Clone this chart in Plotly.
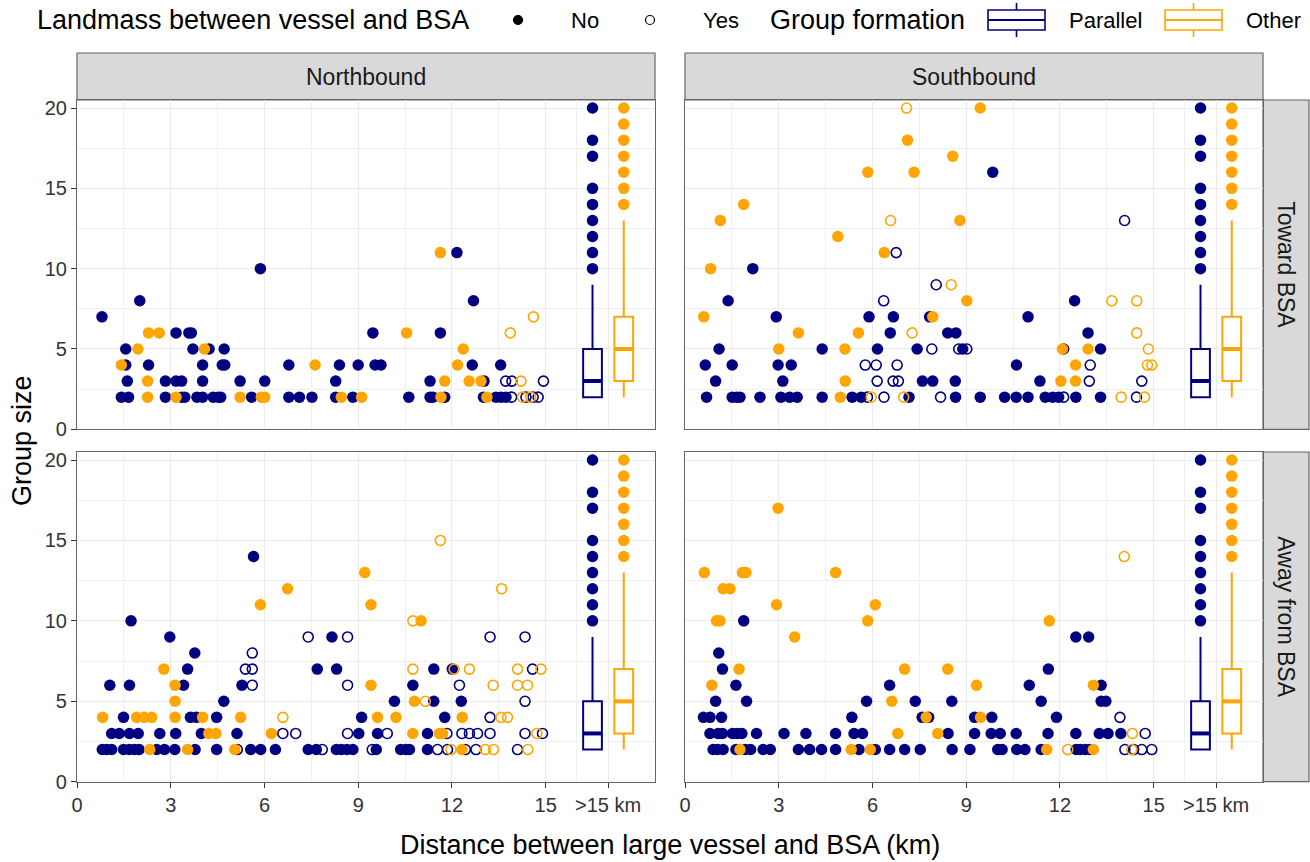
import plotly.graph_objects as go

W, H = 1310, 862
NAVY = "#000080"
ORANGE = "#FFA500"
FONT = "Liberation Sans, Arial, sans-serif"

COLS = ["Northbound", "Southbound"]
ROWS = ["Toward BSA", "Away from BSA"]

X_TICKS = [0, 3, 6, 9, 12, 15, 17]
X_TICKTEXT = ["0", "3", "6", "9", "12", "15", ">15 km"]
X_MINOR = [1.5, 4.5, 7.5, 10.5, 13.5, 16]
Y_TICKS = [0, 5, 10, 15, 20]
Y_MINOR = [2.5, 7.5, 12.5, 17.5]

LANDMASS_TITLE = "Landmass between vessel and BSA"
LANDMASS_LEVELS = ["No", "Yes"]
GROUP_TITLE = "Group formation"

# Box-plot summaries for the ">15 km" class (same in every panel)
BOX_GROUPS = ["Parallel", "Other"]
BOX_POS = [16.5, 17.5]
BOX_WIDTH = 0.6
PAR_STATS = dict(lowerfence=2, q1=2, median=3, q3=5, upperfence=9)
OTH_STATS = dict(lowerfence=2, q1=3, median=5, q3=7, upperfence=13)
PAR_OUTLIERS = [10, 11, 12, 13, 14, 15, 17, 18, 20]
OTH_OUTLIERS = [14, 15, 16, 17, 18, 19, 20]

# ---- scatter data: {group size: [distances in km]} ----
# Northbound, Toward BSA
nb_tw_par_no = {
    11: [12.16], 10: [5.87], 8: [2.01, 12.69], 7: [0.80],
    6: [3.17, 3.58, 3.66, 9.47, 11.63],
    5: [1.56, 3.71, 4.23, 4.71],
    4: [1.56, 2.29, 4.02, 4.65, 4.73, 6.78, 8.40, 9.00, 9.54, 9.73, 12.65, 13.56],
    3: [1.61, 2.83, 3.17, 3.35, 4.02, 5.22, 6.01, 8.28, 11.30, 13.03],
    2: [1.42, 1.65, 2.83, 3.35, 3.45, 3.84, 4.02, 4.36, 4.52, 4.60, 5.59, 6.78,
        7.12, 7.52, 8.28, 8.83, 10.62, 11.30, 11.39, 11.77, 13.01, 13.41, 13.57, 13.73],
}
nb_tw_par_yes = {3: [13.72, 13.92, 14.93], 2: [13.91, 14.37, 14.60, 14.76]}
nb_tw_oth_no = {
    11: [11.63], 6: [2.29, 2.63, 10.55], 5: [1.95, 4.08, 12.36],
    4: [1.42, 7.62, 12.18], 3: [2.26, 11.77, 12.55, 12.93],
    2: [2.26, 3.17, 5.22, 5.90, 6.01, 8.46, 9.11, 11.65, 13.12],
}
nb_tw_oth_yes = {7: [14.61], 6: [13.87], 3: [14.21], 2: [14.26, 14.52]}

# Southbound, Toward BSA
sb_tw_par_no = {
    16: [9.85], 10: [2.17], 8: [1.38, 12.47],
    7: [2.92, 5.89, 6.67, 7.83, 10.98],
    6: [6.57, 8.41, 8.67, 12.90],
    5: [1.09, 4.39, 6.16, 7.43, 8.89, 12.12, 13.30],
    4: [0.65, 1.51, 2.98, 3.40, 10.61],
    3: [0.98, 3.13, 7.60, 7.93, 8.65, 11.36],
    2: [0.69, 1.51, 1.65, 1.76, 2.40, 3.07, 3.35, 3.59, 4.39, 5.35, 5.64, 7.17,
        8.66, 9.45, 10.23, 10.60, 10.98, 11.53, 11.77, 11.96, 12.51, 13.30],
}
sb_tw_par_yes = {
    13: [14.07], 11: [6.76], 9: [8.04], 8: [6.36], 5: [7.90, 8.76, 9.02],
    4: [5.77, 6.12, 6.79, 12.97], 3: [6.15, 6.66, 6.83, 12.94, 14.62],
    2: [5.84, 6.37, 8.18, 12.12, 14.45],
}
sb_tw_oth_no = {
    20: [9.45], 18: [7.12], 17: [8.57], 16: [5.85, 7.33], 14: [1.88],
    13: [1.13, 8.80], 12: [4.89], 11: [6.38], 10: [0.82], 8: [9.02],
    7: [0.60, 7.93], 6: [3.63, 5.55], 5: [3.00, 5.12, 12.08, 12.90],
    4: [12.50], 3: [5.13, 12.03, 12.50], 2: [4.97],
}
sb_tw_oth_yes = {
    20: [7.09], 13: [6.58], 9: [8.52], 8: [13.66, 14.46], 6: [7.27, 14.46],
    5: [14.83], 4: [14.80, 14.94], 2: [5.96, 7.00, 13.96, 14.71],
}

# Northbound, Away from BSA
nb_aw_par_no = {
    14: [5.65], 10: [1.73], 9: [2.97, 8.16], 8: [3.77],
    7: [3.54, 7.69, 8.31, 11.42, 12.01],
    6: [1.05, 1.68, 3.41, 5.28, 10.75],
    5: [4.70, 10.16, 11.42, 12.30],
    4: [1.49, 3.63, 3.82, 4.47, 9.11, 11.77],
    3: [1.11, 1.35, 1.68, 1.96, 2.65, 3.16, 3.98, 5.12, 9.02, 9.62, 11.22],
    2: [0.81, 0.95, 1.11, 1.49, 1.67, 1.83, 1.99, 2.55, 2.80, 3.13, 3.78, 4.47,
        5.56, 5.88, 6.35, 7.40, 7.66, 8.30, 8.46, 8.64, 8.83, 9.58, 10.36, 10.53,
        10.64, 11.22],
}
nb_aw_par_yes = {
    9: [7.40, 8.66, 13.22, 14.34], 8: [5.61], 7: [5.39, 5.61, 14.58],
    6: [5.61, 8.66, 12.24], 5: [14.34], 4: [13.22],
    3: [6.59, 7.00, 8.66, 9.93, 11.84, 12.32, 12.56, 12.82, 13.22, 14.34, 14.90],
    2: [5.13, 7.85, 9.45, 11.54, 11.86, 12.43, 12.77, 14.10],
}
nb_aw_oth_no = {
    13: [9.21], 12: [6.74], 11: [5.87, 9.41], 10: [11.01], 7: [2.78],
    6: [3.14, 9.41], 5: [3.14, 10.80],
    4: [0.82, 1.91, 2.15, 2.39, 3.14, 4.02, 5.24, 9.62, 10.21, 12.33],
    3: [4.22, 4.45, 6.22, 10.75, 11.60, 11.70],
    2: [2.33, 3.54, 5.05, 12.32],
}
nb_aw_oth_yes = {
    15: [11.63], 12: [13.59], 10: [10.75],
    7: [10.75, 12.07, 12.56, 14.10, 14.85], 6: [13.32, 14.10, 14.42],
    5: [11.15], 4: [6.59, 13.57, 13.78], 3: [14.72],
    2: [11.97, 13.07, 13.33, 14.43],
}

# Southbound, Away from BSA
sb_aw_par_no = {
    10: [1.88], 9: [12.51, 12.92], 8: [1.08], 7: [1.20, 11.63],
    6: [1.63, 6.55, 11.02, 13.32],
    5: [0.98, 1.97, 5.81, 7.37, 8.54, 11.40, 13.32, 13.47],
    4: [0.59, 0.80, 1.17, 5.34, 7.59, 7.80, 9.27, 9.82, 11.89],
    3: [0.80, 1.06, 1.20, 1.52, 1.67, 1.82, 2.29, 3.17, 3.87, 4.82, 5.41, 5.68,
        8.42, 9.27, 9.80, 10.09, 10.60, 11.62, 12.51, 13.26, 13.54, 13.95],
    2: [0.90, 1.04, 1.22, 1.63, 1.93, 2.10, 2.50, 2.73, 3.63, 3.99, 4.37, 4.82,
        5.57, 6.09, 6.55, 7.03, 7.53, 8.55, 9.12, 10.01, 10.15, 10.62, 10.88,
        11.40, 12.52, 12.65, 12.81, 12.95],
}
sb_aw_par_yes = {4: [13.92], 3: [14.73], 2: [14.08, 14.36, 14.62, 14.94]}
sb_aw_oth_no = {
    17: [2.98], 13: [0.62, 1.84, 1.95, 4.82], 12: [1.22, 1.44],
    11: [2.93, 6.09], 10: [1.01, 1.12, 5.85, 11.66], 9: [3.51],
    7: [1.73, 7.03, 8.41], 6: [0.86, 9.33, 13.07], 5: [6.62],
    4: [7.72, 9.46], 3: [6.81, 8.09], 2: [1.76, 5.32, 5.93, 11.58, 13.07],
}
sb_aw_oth_yes = {14: [14.06], 3: [14.32], 2: [12.25, 14.30]}

PANELS = [
    # (col, row, par_no, par_yes, oth_no, oth_yes)
    (0, 0, nb_tw_par_no, nb_tw_par_yes, nb_tw_oth_no, nb_tw_oth_yes),
    (1, 0, sb_tw_par_no, sb_tw_par_yes, sb_tw_oth_no, sb_tw_oth_yes),
    (0, 1, nb_aw_par_no, nb_aw_par_yes, nb_aw_oth_no, nb_aw_oth_yes),
    (1, 1, sb_aw_par_no, sb_aw_par_yes, sb_aw_oth_no, sb_aw_oth_yes),
]

# ---- layout geometry (pixels) ----
COL_X = [(77, 655), (685, 1263)]
ROW_Y = [(100, 429.3), (452, 781.7)]
STRIP_TOP = (53, 100)
STRIP_RIGHT = (1263, 1310)
LEG_Y = 20


def px_x(p):
    return p / W


def px_y(p):
    return 1 - p / H


def expand(d):
    xs, ys = [], []
    for y, xl in d.items():
        for x in xl:
            xs.append(x)
            ys.append(y)
    return xs, ys


fig = go.Figure()
MS = 11.5

for idx, (c, r, pn, py_, on, oy) in enumerate(PANELS):
    n = "" if idx == 0 else str(idx + 1)
    xa, ya = "x" + n, "y" + n
    for data, color, filled in [(pn, NAVY, True), (py_, NAVY, False),
                                (on, ORANGE, True), (oy, ORANGE, False)]:
        xs, ys = expand(data)
        fig.add_trace(go.Scatter(
            x=xs, y=ys, mode="markers", xaxis=xa, yaxis=ya, showlegend=False,
            hoverinfo="skip",
            marker=dict(size=MS if filled else MS - 1.5, color=color,
                        symbol="circle" if filled else "circle-open",
                        line=dict(width=0 if filled else 1.6, color=color)),
        ))
    for g, pos, stats, outl, color in [
        (BOX_GROUPS[0], BOX_POS[0], PAR_STATS, PAR_OUTLIERS, NAVY),
        (BOX_GROUPS[1], BOX_POS[1], OTH_STATS, OTH_OUTLIERS, ORANGE),
    ]:
        fig.add_trace(go.Box(
            x=[pos], q1=[stats["q1"]], median=[stats["median"]], q3=[stats["q3"]],
            lowerfence=[stats["lowerfence"]], upperfence=[stats["upperfence"]],
            width=BOX_WIDTH, whiskerwidth=0, boxpoints=False, orientation="v",
            fillcolor="white", line=dict(color=color, width=2),
            xaxis=xa, yaxis=ya, name=g, showlegend=False, hoverinfo="skip",
        ))
        fig.add_trace(go.Scatter(
            x=[pos - BOX_WIDTH / 2, pos + BOX_WIDTH / 2],
            y=[stats["median"]] * 2, mode="lines",
            line=dict(color=color, width=4), xaxis=xa, yaxis=ya,
            showlegend=False, hoverinfo="skip",
        ))
        fig.add_trace(go.Scatter(
            x=[pos] * len(outl), y=outl, mode="markers",
            marker=dict(size=MS, color=color), xaxis=xa, yaxis=ya,
            showlegend=False, hoverinfo="skip",
        ))

    xkey = "xaxis" + n
    ykey = "yaxis" + n
    bottom = (r == 1)
    left = (c == 0)
    fig.layout[xkey] = dict(
        domain=[px_x(COL_X[c][0]), px_x(COL_X[c][1])], anchor=ya,
        range=[0, 18.5], tickvals=X_TICKS, ticktext=X_TICKTEXT,
        showticklabels=bottom, ticks="outside" if bottom else "",
        ticklen=5, tickcolor="#333333", tickwidth=1, automargin=False,
        tickfont=dict(size=20, color="#333333", family=FONT),
        showgrid=True, gridcolor="#EBEBEB", gridwidth=1, zeroline=False,
        showline=True, mirror=True, linecolor="#666666", linewidth=1.2,
        minor=dict(tickvals=X_MINOR, showgrid=True, gridcolor="#F0F0F0",
                   gridwidth=0.8, ticks=""),
    )
    fig.layout[ykey] = dict(
        domain=[px_y(ROW_Y[r][1]), px_y(ROW_Y[r][0])], anchor=xa,
        range=[0, 20.5], tickvals=Y_TICKS,
        showticklabels=left, ticks="outside" if left else "",
        ticklen=5, tickcolor="#333333", tickwidth=1, automargin=False,
        tickfont=dict(size=20, color="#333333", family=FONT),
        showgrid=True, gridcolor="#EBEBEB", gridwidth=1, zeroline=False,
        showline=True, mirror=True, linecolor="#666666", linewidth=1.2,
        minor=dict(tickvals=Y_MINOR, showgrid=True, gridcolor="#F0F0F0",
                   gridwidth=0.8, ticks=""),
    )

shapes = []
annotations = []

# facet strips
for c, label in enumerate(COLS):
    shapes.append(dict(type="rect", xref="paper", yref="paper",
                       x0=px_x(COL_X[c][0]), x1=px_x(COL_X[c][1]),
                       y0=px_y(STRIP_TOP[1]), y1=px_y(STRIP_TOP[0]),
                       fillcolor="#D9D9D9", line=dict(color="#666666", width=1.2),
                       layer="below"))
    annotations.append(dict(text=label, xref="paper", yref="paper",
                            x=px_x((COL_X[c][0] + COL_X[c][1]) / 2),
                            y=px_y((STRIP_TOP[0] + STRIP_TOP[1]) / 2),
                            showarrow=False, xanchor="center", yanchor="middle",
                            font=dict(size=23, color="#1A1A1A", family=FONT)))
for r, label in enumerate(ROWS):
    shapes.append(dict(type="rect", xref="paper", yref="paper",
                       x0=px_x(STRIP_RIGHT[0]), x1=px_x(STRIP_RIGHT[1]) - 0.0008,
                       y0=px_y(ROW_Y[r][1]), y1=px_y(ROW_Y[r][0]),
                       fillcolor="#D9D9D9", line=dict(color="#666666", width=1.2),
                       layer="below"))
    annotations.append(dict(text=label, xref="paper", yref="paper",
                            x=px_x((STRIP_RIGHT[0] + STRIP_RIGHT[1]) / 2),
                            y=px_y((ROW_Y[r][0] + ROW_Y[r][1]) / 2),
                            showarrow=False, xanchor="center", yanchor="middle",
                            textangle=90,
                            font=dict(size=23, color="#1A1A1A", family=FONT)))

# axis titles
annotations.append(dict(text="Group size", xref="paper", yref="paper",
                        x=px_x(22), y=px_y(441), showarrow=False, textangle=-90,
                        xanchor="center", yanchor="middle",
                        font=dict(size=27, color="black", family=FONT)))
annotations.append(dict(text="Distance between large vessel and BSA (km)",
                        xref="paper", yref="paper", x=px_x(670), y=px_y(845),
                        showarrow=False, xanchor="center", yanchor="middle",
                        font=dict(size=27, color="black", family=FONT)))


# ---- legend (drawn as keys + text) ----
def text_at(x, s, size):
    annotations.append(dict(text=s, xref="paper", yref="paper", x=px_x(x),
                            y=px_y(LEG_Y), showarrow=False, xanchor="left",
                            yanchor="middle",
                            font=dict(size=size, color="black", family=FONT)))


text_at(35, LANDMASS_TITLE, 27)
for cx, label, filled in [(518, LANDMASS_LEVELS[0], True),
                          (650, LANDMASS_LEVELS[1], False)]:
    rad = 4.5
    shapes.append(dict(type="circle", xref="paper", yref="paper",
                       x0=px_x(cx - rad), x1=px_x(cx + rad),
                       y0=px_y(LEG_Y + rad), y1=px_y(LEG_Y - rad),
                       fillcolor="black" if filled else "white",
                       line=dict(color="black", width=1.2)))
    text_at(cx + 51, label, 22)

text_at(768, GROUP_TITLE, 27)
for x0, label, color in [(988, BOX_GROUPS[0], NAVY), (1165, BOX_GROUPS[1], ORANGE)]:
    x1 = x0 + 57
    xc = (x0 + x1) / 2
    shapes.append(dict(type="line", xref="paper", yref="paper",
                       x0=px_x(xc), x1=px_x(xc), y0=px_y(3), y1=px_y(37),
                       line=dict(color=color, width=1.6)))
    shapes.append(dict(type="rect", xref="paper", yref="paper",
                       x0=px_x(x0), x1=px_x(x1), y0=px_y(30), y1=px_y(10),
                       fillcolor="white", line=dict(color=color, width=1.6)))
    shapes.append(dict(type="line", xref="paper", yref="paper",
                       x0=px_x(x0), x1=px_x(x1), y0=px_y(LEG_Y), y1=px_y(LEG_Y),
                       line=dict(color=color, width=2.2)))
    text_at(x1 + 22, label, 22)

fig.update_layout(
    width=W, height=H, margin=dict(l=0, r=0, t=0, b=0, autoexpand=False),
    paper_bgcolor="white", plot_bgcolor="white",
    font=dict(family=FONT, color="black"),
    shapes=shapes, annotations=annotations, showlegend=False,
)

fig.write_html(
    "out.html",
    config={"displayModeBar": False},
    post_script="document.body.style.margin='0px';document.body.style.overflow='hidden';",
)
